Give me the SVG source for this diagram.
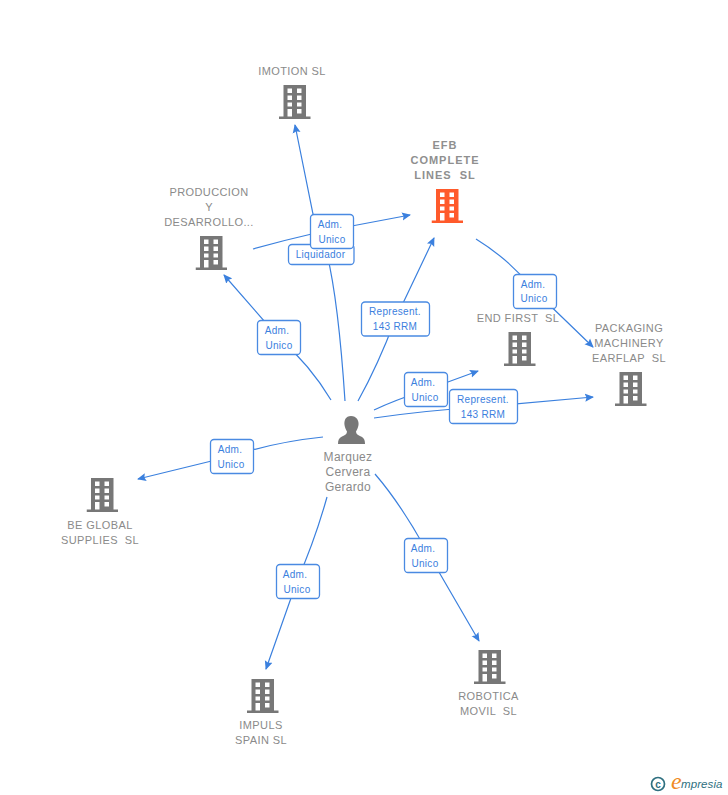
<svg xmlns="http://www.w3.org/2000/svg" xmlns:xlink="http://www.w3.org/1999/xlink" width="728" height="795" viewBox="0 0 728 795">
<style>
text{font-family:"Liberation Sans",Arial,sans-serif}
.n{font-size:11px;fill:#8a8a8a;text-anchor:middle;letter-spacing:.4px}
.p{font-size:12px;fill:#8a8a8a;text-anchor:middle;letter-spacing:.3px}
.b{font-weight:bold;letter-spacing:1px;font-size:11px;fill:#8f8f8f;text-anchor:middle}
.c{fill:none;stroke:#3b80de;stroke-width:1.2;marker-end:url(#a)}
.l{fill:#fff;stroke:#4a8ae2;stroke-width:1.3}
.t{font-size:10px;fill:#3b80de;text-anchor:middle;letter-spacing:.3px}
.g{fill:#777}.r{fill:#ff5a2b}
</style>
<defs>
<marker id="a" markerWidth="10" markerHeight="9" refX="8" refY="4.500" orient="auto" markerUnits="userSpaceOnUse"><path d="M0 0.500L9 4.500L0 8.500L1.500 4.500Z" fill="#3b80de"/></marker>
<symbol id="bd" viewBox="0 0 32 34" width="32" height="34">
<path fill-rule="evenodd" d="M4.500 0H27V31.500H31.500V34H0V31.500H4.500ZM8.500 3.500V8H13V3.500ZM18 3.500V8H22.500V3.500ZM8.500 10.500V15H13V10.500ZM18 10.500V15H22.500V10.500ZM8.500 17.500V21.500H13V17.500ZM18 17.500V21.500H22.500V17.500ZM8.500 24V31.500H13V24ZM18 24V28.500H22.500V24Z"/>
</symbol>
</defs>
<rect width="728" height="795" fill="#fff"/>
<g id="connectors">
<path class="c" d="M345 401C341 340 335 285 326 250L313 214L295 125"/>
<path class="c" d="M253 249Q285 240 320 232L410 215"/>
<path class="c" d="M331 400Q310 365 279 338L224 275"/>
<path class="c" d="M358 401Q378 365 395 320L434 238"/>
<path class="c" d="M476 239Q510 260 535 291L593 347"/>
<path class="c" d="M374 410Q395 400 426 390L478 371"/>
<path class="c" d="M374 418Q430 410 483 407L593 397"/>
<path class="c" d="M323 437Q275 442 232 456L138 479"/>
<path class="c" d="M327 497Q315 540 297 581L266 669"/>
<path class="c" d="M375 474Q400 503 425 548L479 641"/>
</g>
<g id="edge-labels">
<g><rect class="l" x="288.500" y="244.500" width="65.500" height="20" rx="3.500"/><text class="t" x="320.500" y="258">Liquidador</text></g>
<g><rect class="l" x="310.500" y="214.500" width="43" height="34" rx="3.500"/><text class="t" x="330" y="228">Adm.</text><text class="t" x="332" y="243">Unico</text></g>
<g><rect class="l" x="257.500" y="320.500" width="43" height="34" rx="3.500"/><text class="t" x="277" y="334">Adm.</text><text class="t" x="279" y="349">Unico</text></g>
<g><rect class="l" x="361.500" y="302" width="68" height="34" rx="3.500"/><text class="t" x="395" y="315">Represent.</text><text class="t" x="395" y="330">143 RRM</text></g>
<g><rect class="l" x="513.500" y="274.500" width="43" height="34" rx="3.500"/><text class="t" x="533" y="288">Adm.</text><text class="t" x="534" y="302">Unico</text></g>
<g><rect class="l" x="404.500" y="372.500" width="43" height="34" rx="3.500"/><text class="t" x="423" y="386">Adm.</text><text class="t" x="425" y="401">Unico</text></g>
<g><rect class="l" x="449.500" y="389.500" width="68" height="34" rx="3.500"/><text class="t" x="483" y="403">Represent.</text><text class="t" x="483" y="418">143 RRM</text></g>
<g><rect class="l" x="210.500" y="439.500" width="43" height="34" rx="3.500"/><text class="t" x="230" y="453">Adm.</text><text class="t" x="231" y="468">Unico</text></g>
<g><rect class="l" x="276.500" y="564.500" width="43" height="34" rx="3.500"/><text class="t" x="295" y="578">Adm.</text><text class="t" x="297" y="593">Unico</text></g>
<g><rect class="l" x="404.500" y="538.500" width="43" height="34" rx="3.500"/><text class="t" x="423" y="552">Adm.</text><text class="t" x="425" y="567">Unico</text></g>
</g>
<g id="imotion"><use href="#bd" x="279" y="85" class="g"/><text class="n" x="292" y="75">IMOTION SL</text></g>
<g id="efb"><use href="#bd" x="431.500" y="189" class="r"/><text class="b" x="445" y="149">EFB</text><text class="b" x="445" y="164">COMPLETE</text><text class="b" x="445" y="179" xml:space="preserve">LINES  SL</text></g>
<g id="produccion"><use href="#bd" x="195.500" y="236" class="g"/><text class="n" x="209" y="196">PRODUCCION</text><text class="n" x="209" y="211">Y</text><text class="n" x="209" y="226">DESARROLLO...</text></g>
<g id="endfirst"><use href="#bd" x="504" y="332" class="g"/><text class="n" x="518" y="322" xml:space="preserve">END FIRST  SL</text></g>
<g id="packaging"><use href="#bd" x="615" y="372" class="g"/><text class="n" x="629" y="332">PACKAGING</text><text class="n" x="629" y="347">MACHINERY</text><text class="n" x="629" y="362" xml:space="preserve">EARFLAP  SL</text></g>
<g id="beglobal"><use href="#bd" x="86.500" y="478" class="g"/><text class="n" x="100" y="529">BE GLOBAL</text><text class="n" x="100" y="544" xml:space="preserve">SUPPLIES  SL</text></g>
<g id="impuls"><use href="#bd" x="247" y="679" class="g"/><text class="n" x="261" y="729">IMPULS</text><text class="n" x="261" y="744">SPAIN SL</text></g>
<g id="robotica"><use href="#bd" x="474" y="650" class="g"/><text class="n" x="488.500" y="700">ROBOTICA</text><text class="n" x="488.500" y="715" xml:space="preserve">MOVIL  SL</text></g>
<g id="person"><path class="g" d="M351 416C345.500 416 344 420.500 344.500 425C345 428 346 430 347 431.500C347 434 345 435 342 436.500C339 438 338 440 338 444H365C365 440 364 438 361 436.500C358 435 356 434 356 431.500C357 430 358 428 358.500 425C359 420.500 356.500 416 351 416Z"/><text class="p" x="348" y="461">Marquez</text><text class="p" x="348" y="476">Cervera</text><text class="p" x="348" y="491">Gerardo</text></g>
<g id="logo"><circle cx="658" cy="784" r="6.500" fill="none" stroke="#2f7080" stroke-width="1.700"/><text x="658" y="787.500" font-size="10" font-weight="bold" fill="#2f7080" text-anchor="middle">c</text><text x="671" y="789" style="font-family:'Liberation Serif',serif" font-style="italic" font-size="24" fill="#f08a24">e</text><text x="681" y="788" font-style="italic" font-size="11.500" fill="#2f7080" letter-spacing=".1">mpresia</text></g>
</svg>
